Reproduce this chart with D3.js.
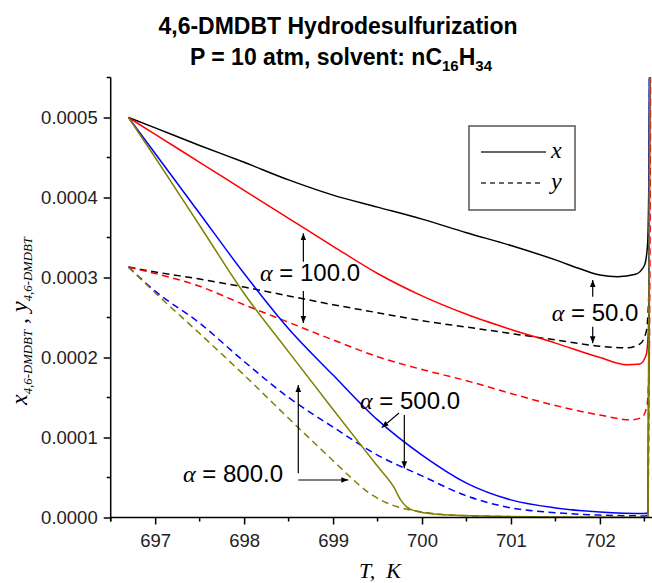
<!DOCTYPE html>
<html>
<head>
<meta charset="utf-8">
<script src="https://cdn.jsdelivr.net/npm/d3@7"></script>
<style>
  html, body { margin: 0; padding: 0; background: #fff; }
  svg { display: block; }
</style>
</head>
<body>
<svg id="chart" width="652" height="583"></svg>
<script>
// ---------------- DATA ----------------
const titleLine1 = "4,6-DMDBT Hydrodesulfurization";
const xTicks = [697, 698, 699, 700, 701, 702];
const yTicks = [0, 0.0001, 0.0002, 0.0003, 0.0004, 0.0005];

// alpha = 50.0 (black)
const T_a50_x = [696.7, 697, 697.5, 698, 698.5, 699, 699.5, 700, 700.5, 701, 701.5, 701.8, 702, 702.2, 702.4, 702.5, 702.535, 702.55, 702.56];
const x_a50   = [0.0005, 0.000487, 0.000465, 0.000444, 0.000422, 0.000403, 0.000388, 0.000373, 0.000356, 0.00034, 0.000322, 0.00031, 0.000303, 0.000301, 0.000304, 0.000315, 0.00034, 0.00042, 0.00056];
const T_a50_y = [696.7, 697, 697.5, 698, 698.5, 699, 699.5, 700, 700.5, 701, 701.5, 702, 702.3, 702.45, 702.52, 702.55, 702.565];
const y_a50   = [0.000313, 0.000307, 0.000298, 0.000288, 0.000277, 0.000266, 0.000256, 0.000246, 0.000238, 0.00023, 0.000222, 0.000214, 0.000212, 0.000217, 0.000232, 0.00028, 0.00056];

// alpha = 100.0 (red)
const T_a100_x = [696.7, 697, 697.5, 698, 698.5, 699, 699.5, 700, 700.5, 701, 701.5, 702, 702.3, 702.45, 702.52, 702.55, 702.565];
const x_a100   = [0.0005, 0.000479, 0.000444, 0.000409, 0.000374, 0.000339, 0.000305, 0.000277, 0.000254, 0.000235, 0.000218, 0.0002, 0.000191, 0.000192, 0.000203, 0.00025, 0.00056];
const T_a100_y = [696.7, 697, 697.5, 698, 698.5, 699, 699.5, 700, 700.5, 701, 701.5, 702, 702.35, 702.47, 702.53, 702.555, 702.57];
const y_a100   = [0.000313, 0.000305, 0.000289, 0.000266, 0.000244, 0.000222, 0.000201, 0.000185, 0.000171, 0.000155, 0.00014, 0.000128, 0.000122, 0.000125, 0.00014, 0.0002, 0.00056];

// alpha = 500.0 (blue)
const T_a500_x = [696.7, 697, 697.5, 698, 698.5, 699, 699.5, 700, 700.5, 701, 701.5, 702, 702.5, 702.54, 702.548, 702.556];
const x_a500   = [0.0005, 0.000455, 0.00038, 0.000305, 0.000236, 0.000178, 0.000122, 0.000078, 0.000043, 0.000022, 0.000012, 0.000007, 0.000005, 0.000006, 0.0002, 0.00056];
const T_a500_y = [696.7, 697, 697.5, 698, 698.5, 699, 699.5, 700, 700.5, 701, 701.5, 702, 702.5, 702.54, 702.55, 702.558];
const y_a500   = [0.000313, 0.000283, 0.000243, 0.000195, 0.00015, 0.000113, 0.000078, 0.000052, 0.000027, 0.000012, 0.000006, 0.000003, 0.000002, 0.000003, 0.0002, 0.00056];

// alpha = 800.0 (olive)
const T_a800_x = [696.7, 697, 697.5, 698, 698.5, 699, 699.5, 699.68, 699.76, 699.83, 699.95, 700.3, 700.8, 701.5, 702.54, 702.55, 702.56];
const x_a800   = [0.0005, 0.00045, 0.000365, 0.00028, 0.000207, 0.000135, 0.000064, 0.0000385, 0.000022, 0.000013, 0.0000075, 0.000003, 0.0000015, 0.0000005, 0, 0.0002, 0.00056];
const T_a800_y = [696.7, 697, 697.5, 698, 698.5, 699, 699.2, 699.4, 699.55, 699.72, 700, 700.32, 700.8, 701.5, 702.54, 702.55, 702.56];
const y_a800   = [0.000313, 0.000281, 0.00023, 0.000178, 0.000124, 0.000071, 0.00005, 0.000031, 0.000021, 0.0000135, 0.000007, 0.000003, 0.0000015, 0.0000005, 0, 0.0002, 0.00056];

const seriesColors = { a50: "#000000", a100: "#ff0000", a500: "#0000ff", a800: "#808000" };

// ---------------- LAYOUT ----------------
const svg = d3.select("#chart");
const X0 = 110.7, X1 = 652.4, Y0 = 517.5, Y1 = 77.5;
const x = d3.scaleLinear().domain([696.5, 702.59]).range([X0, X1]);
const y = d3.scaleLinear().domain([0, 0.00055]).range([Y0, Y1]);

const sans = "Arial, 'Liberation Sans', Helvetica, sans-serif";
const serif = "'Times New Roman', 'Liberation Serif', serif";

// Title
svg.append("text").attr("x", 338).attr("y", 34).attr("text-anchor", "middle")
  .attr("font-family", sans).attr("font-weight", "bold").attr("font-size", 23)
  .text(titleLine1);
const t2 = svg.append("text").attr("x", 341).attr("y", 64.5).attr("text-anchor", "middle")
  .attr("font-family", sans).attr("font-weight", "bold").attr("font-size", 23);
t2.append("tspan").text("P = 10 atm, solvent: nC");
t2.append("tspan").attr("font-size", 15).attr("dy", 6).text("16");
t2.append("tspan").attr("dy", -6).text("H");
t2.append("tspan").attr("font-size", 15).attr("dy", 6).text("34");

// clip
const defs = svg.append("defs");
defs.append("clipPath").attr("id", "plotclip")
  .append("rect").attr("x", X0).attr("y", Y1).attr("width", X1 - X0 + 2).attr("height", Y0 - Y1);

// Lines
const line = d3.line().x(d => x(d[0])).y(d => y(d[1])).curve(d3.curveMonotoneX);
const plotG = svg.append("g").attr("clip-path", "url(#plotclip)");
const series = [
  { T: T_a50_x, v: x_a50, c: seriesColors.a50, dash: null },
  { T: T_a50_y, v: y_a50, c: seriesColors.a50, dash: "7,4.5" },
  { T: T_a100_x, v: x_a100, c: seriesColors.a100, dash: null },
  { T: T_a100_y, v: y_a100, c: seriesColors.a100, dash: "7,4.5" },
  { T: T_a500_x, v: x_a500, c: seriesColors.a500, dash: null },
  { T: T_a500_y, v: y_a500, c: seriesColors.a500, dash: "7,4.5" },
  { T: T_a800_x, v: x_a800, c: seriesColors.a800, dash: null },
  { T: T_a800_y, v: y_a800, c: seriesColors.a800, dash: "7,4.5" }
];
series.forEach(s => {
  plotG.append("path").datum(s.T.map((t, i) => [t, s.v[i]]))
    .attr("fill", "none").attr("stroke", s.c).attr("stroke-width", 1.5)
    .attr("stroke-dasharray", s.dash).attr("d", line);
});

// Axes
const axG = svg.append("g").attr("stroke", "#000").attr("stroke-width", 1.5);
axG.append("line").attr("x1", X0).attr("x2", X1).attr("y1", Y0).attr("y2", Y0);
axG.append("line").attr("x1", X0).attr("x2", X0).attr("y1", Y1).attr("y2", Y0 + 4);

const xAxis = d3.axisBottom(x).tickValues(xTicks).tickSize(7).tickFormat(d3.format("d"));
const gx = svg.append("g").attr("transform", `translate(0,${Y0})`).call(xAxis);
gx.select(".domain").remove();
gx.selectAll("line").attr("stroke-width", 1.5);
gx.selectAll("text").attr("font-family", sans).attr("font-size", 18.5).attr("fill", "#222").attr("dy", "1.05em");
const xMinor = d3.range(696.5, 702.6, 1);
svg.append("g").selectAll("line").data(xMinor).join("line")
  .attr("x1", d => x(d)).attr("x2", d => x(d)).attr("y1", Y0).attr("y2", Y0 + 4)
  .attr("stroke", "#000").attr("stroke-width", 1.5);

const yAxis = d3.axisLeft(y).tickValues(yTicks).tickSize(7).tickFormat(d3.format(".4f"));
const gy = svg.append("g").attr("transform", `translate(${X0},0)`).call(yAxis);
gy.select(".domain").remove();
gy.selectAll("line").attr("stroke-width", 1.5);
gy.selectAll("text").attr("font-family", sans).attr("font-size", 18.5).attr("fill", "#222").attr("x", -13);
const yMinor = [0.00005, 0.00015, 0.00025, 0.00035, 0.00045, 0.00055];
svg.append("g").selectAll("line").data(yMinor).join("line")
  .attr("x1", X0 - 4).attr("x2", X0).attr("y1", d => y(d)).attr("y2", d => y(d))
  .attr("stroke", "#000").attr("stroke-width", 1.5);

// Axis titles
svg.append("text").attr("x", 380).attr("y", 578).attr("text-anchor", "middle")
  .attr("font-family", serif).attr("font-style", "italic").attr("font-size", 22)
  .style("white-space", "pre").text("T,  K");

const ylMain = 24, ylSub0 = 14;
const yl = svg.append("text").attr("transform", "translate(27,321) rotate(-90)")
  .attr("text-anchor", "middle").attr("font-family", serif).attr("font-style", "italic");
const ylParts = [
  { t: "x", sub: false }, { t: "4,6-DMDBT", sub: true },
  { t: " , y", sub: false }, { t: "4,6-DMDBT", sub: true }
];
const ylSpans = ylParts.map((p, i) => yl.append("tspan").style("white-space", "pre")
  .attr("dy", i === 0 ? 0 : (p.sub ? 5 : -5))
  .attr("font-size", p.sub ? ylSub0 : ylMain).text(p.t));
let mainLen = 0, subLen = 0;
ylSpans.forEach((s, i) => {
  const l = s.node().getComputedTextLength();
  if (ylParts[i].sub) subLen += l; else mainLen += l;
});
if (subLen > 0) {
  const subSize = Math.max(9, Math.min(16, ylSub0 * (168 - mainLen) / subLen));
  ylSpans.forEach((s, i) => { if (ylParts[i].sub) s.attr("font-size", subSize); });
}

// Legend
const lg = svg.append("g");
lg.append("rect").attr("x", 469).attr("y", 126).attr("width", 106).attr("height", 84)
  .attr("fill", "#fff").attr("stroke", "#555").attr("stroke-width", 1.5);
lg.append("line").attr("x1", 481).attr("x2", 546).attr("y1", 152).attr("y2", 152)
  .attr("stroke", "#333").attr("stroke-width", 1.5);
lg.append("line").attr("x1", 481).attr("x2", 543).attr("y1", 183).attr("y2", 183)
  .attr("stroke", "#333").attr("stroke-width", 1.5).attr("stroke-dasharray", "5,4");
lg.append("text").attr("x", 551).attr("y", 158).attr("font-family", serif).attr("font-style", "italic")
  .attr("font-size", 24).text("x");
lg.append("text").attr("x", 551).attr("y", 189).attr("font-family", serif).attr("font-style", "italic")
  .attr("font-size", 24).text("y");

// Annotations (in data coordinates)
const annotations = [
  { label: "100.0", T: 698.179, v: 0.0002956 },
  { label: "50.0", T: 701.458, v: 0.0002456 },
  { label: "500.0", T: 699.303, v: 0.0001356 },
  { label: "800.0", T: 697.313, v: 0.000044 }
];
annotations.forEach(a => {
  const t = svg.append("text").attr("x", x(a.T)).attr("y", y(a.v)).attr("font-size", 24).attr("font-family", sans);
  t.append("tspan").attr("font-family", serif).attr("font-style", "italic").text("α");
  t.append("tspan").text(" = " + a.label);
});

const arrows = [
  [698.666, 0.0003198, 698.666, 0.0003553],
  [698.666, 0.0002831, 698.666, 0.0002431],
  [701.919, 0.000276, 701.919, 0.0002969],
  [701.919, 0.0002385, 701.919, 0.0002178],
  [699.742, 0.0001306, 699.547, 0.0001123],
  [699.801, 0.0001281, 699.801, 0.0000615],
  [698.609, 0.00005525, 698.609, 0.0001656],
  [698.609, 0.0000469, 699.171, 0.0000469]
];
defs.append("marker").attr("id", "ah").attr("viewBox", "0 0 10 10").attr("refX", 10).attr("refY", 5)
  .attr("markerWidth", 7).attr("markerHeight", 7).attr("markerUnits", "userSpaceOnUse").attr("orient", "auto")
  .append("path").attr("d", "M0,1 L10,5 L0,9 Z").attr("fill", "#000");
svg.append("g").selectAll("line").data(arrows).join("line")
  .attr("x1", d => x(d[0])).attr("y1", d => y(d[1]))
  .attr("x2", d => x(d[2])).attr("y2", d => y(d[3]))
  .attr("stroke", "#000").attr("stroke-width", 1.2).attr("marker-end", "url(#ah)");
</script>
</body>
</html>
